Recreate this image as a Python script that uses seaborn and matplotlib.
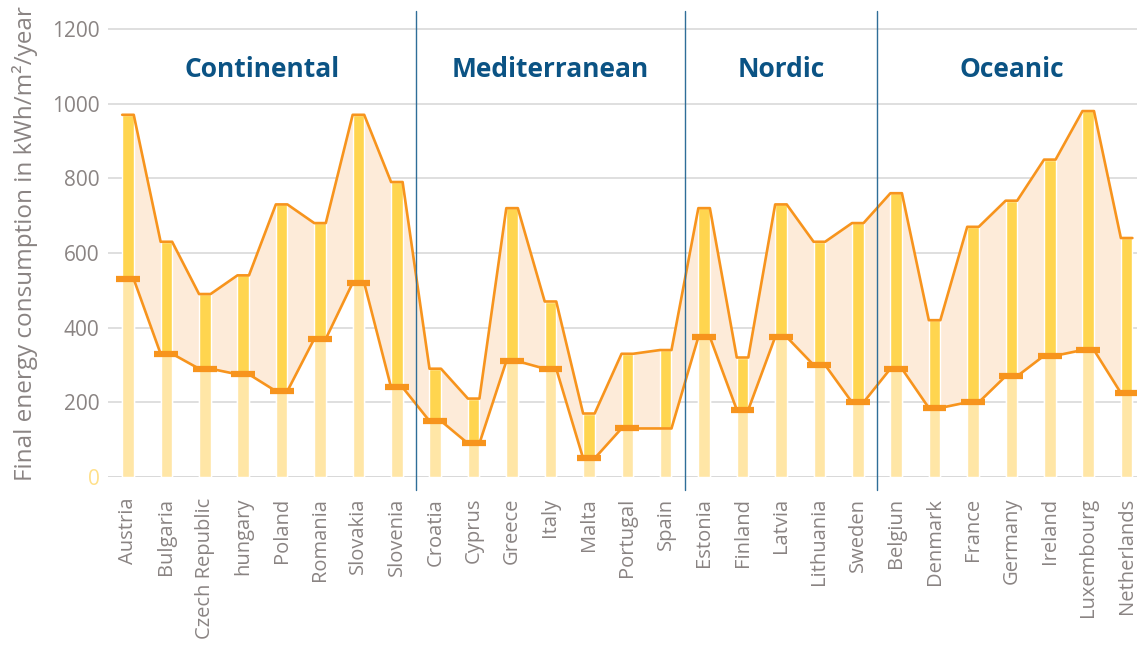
import numpy as np
import pandas as pd
import matplotlib
matplotlib.use('Agg')
import matplotlib.pyplot as plt
import seaborn as sns

countries = ['Austria', 'Bulgaria', 'Czech Republic', 'hungary', 'Poland', 'Romania', 'Slovakia', 'Slovenia',
             'Croatia', 'Cyprus', 'Greece', 'Italy', 'Malta', 'Portugal', 'Spain',
             'Estonia', 'Finland', 'Latvia', 'Lithuania', 'Sweden',
             'Belgiun', 'Denmark', 'France', 'Germany', 'Ireland', 'Luxembourg', 'Netherlands']
upper = [970, 630, 490, 540, 730, 680, 970, 790,
         290, 210, 720, 470, 170, 330, 340,
         720, 320, 730, 630, 680,
         760, 420, 670, 740, 850, 980, 640]
lower = [530, 330, 290, 275, 230, 370, 520, 240,
         150, 90, 310, 290, 50, 130, 130,
         375, 180, 375, 300, 200,
         290, 185, 200, 270, 325, 340, 225]
# Spain has no marker for its lower value
show_marker = [True] * 14 + [False] + [True] * 12

groups = ['Continental', 'Mediterranean', 'Nordic', 'Oceanic']
group_sizes = [8, 7, 5, 7]

light = '#FFE6A6'
dark = '#FFD54F'
orange = '#F7941D'
peach = '#FDEBD9'
blue = '#0B5384'
grey = '#8A8483'

sns.set_theme(style='white')
plt.rcParams['font.family'] = ['Open Sans', 'DejaVu Sans']

df = pd.DataFrame({'country': countries, 'upper': upper, 'lower': lower})

fig = plt.figure(figsize=(11.37, 6.47), dpi=100)
ax = fig.add_axes([108 / 1137, 1 - 477 / 647, 1 - 108 / 1137, 466 / 647])

bw = 0.3
sns.barplot(data=df, x='country', y='upper', color=dark, width=bw, saturation=1, ax=ax, zorder=2)
sns.barplot(data=df, x='country', y='lower', color=light, width=bw, saturation=1, ax=ax, zorder=2)

x = np.arange(len(countries))
xs = np.column_stack([x - bw / 2, x + bw / 2]).ravel()
up_s = np.repeat(upper, 2)
lo_s = np.repeat(lower, 2)
ax.fill_between(xs, lo_s, up_s, color=peach, zorder=1, lw=0)
sns.lineplot(x=xs, y=up_s, sort=False, color=orange, lw=1.9, ax=ax, zorder=3)
sns.lineplot(x=xs, y=lo_s, sort=False, color=orange, lw=1.9, ax=ax, zorder=3)

m = np.array(show_marker)
ax.hlines(np.array(lower)[m], x[m] - 0.31, x[m] + 0.31, color=orange, lw=4.5, zorder=4)

ax.set_xlim(-0.52, 26.27)
ax.set_ylim(0, 1248)
ax.set_yticks(range(0, 1201, 200))
ax.yaxis.grid(True, color='#D9D9D9', lw=1.2)
ax.set_axisbelow(True)
for s in ax.spines.values():
    s.set_visible(False)
ax.axhline(0, color='#D6D6D6', lw=2, zorder=0)

ax.tick_params(axis='y', labelsize=15, colors=grey, pad=6, length=0)
ax.tick_params(axis='x', labelsize=14.5, colors=grey, pad=15, length=0, rotation=90)
ax.get_yticklabels()[0].set_color('#FFE08A')
ax.set_xlabel('')
ax.set_ylabel('Final energy consumption in kWh/m²/year', fontsize=17.5, color=grey, labelpad=10)

start = 0
for g, n in zip(groups, group_sizes):
    ax.text(start + (n - 1) / 2, 1090, g, ha='center', va='center',
            fontsize=19, fontweight='bold', color=blue)
    if start + n < len(countries):
        ax.axvline(start + n - 0.5, ymin=-0.028, ymax=1, color='#2F6E98', lw=1, clip_on=False, zorder=5)
    start += n

fig.savefig('out.png', dpi=100)
